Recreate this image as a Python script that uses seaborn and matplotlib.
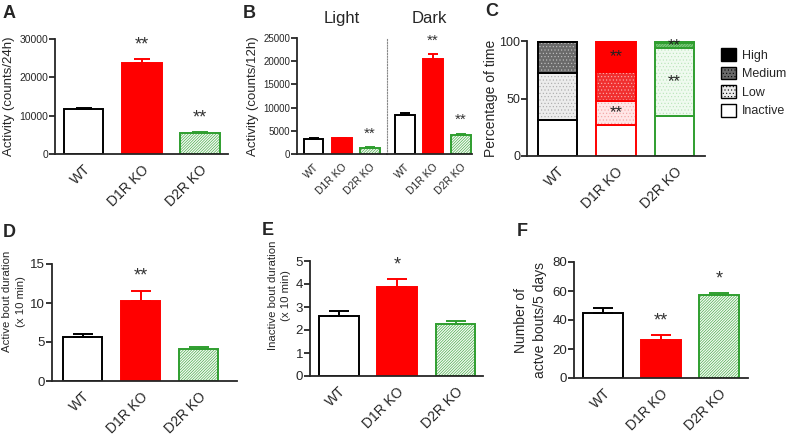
import pandas as pd
import seaborn as sns
import matplotlib.pyplot as plt
from matplotlib.patches import Patch

# ---- data ----
groups = ["WT", "D1R KO", "D2R KO"]

# A: total activity
act24_mean = [11800, 23700, 5500]
act24_sem = [300, 1100, 200]
act24_stars = ["", "**", "**"]

# B: activity per 12h, light and dark phase
light_mean = [3300, 3350, 1300]
light_sem = [150, 200, 120]
light_stars = ["", "", "**"]
dark_mean = [8500, 20400, 4150]
dark_sem = [250, 1050, 250]
dark_stars = ["", "**", "**"]

# C: percentage of time at each activity level (stacked bottom -> top)
levels = ["Inactive", "Low", "Medium", "High"]
pct_inactive = [31, 27, 35]
pct_low = [41, 21, 59]
pct_medium = [27.5, 25, 4.5]
pct_high = [0.5, 27, 1.5]
stars_inactive = ["", "", ""]
stars_low = ["", "**", "**"]
stars_medium = ["", "", "**"]
stars_high = ["", "**", ""]

# D, E, F: bout analysis
active_bout_mean = [5.7, 10.3, 4.1]
active_bout_sem = [0.3, 1.3, 0.25]
active_bout_stars = ["", "**", ""]
inactive_bout_mean = [2.6, 3.85, 2.25]
inactive_bout_sem = [0.22, 0.37, 0.15]
inactive_bout_stars = ["", "*", ""]
n_bouts_mean = [45, 26.5, 57]
n_bouts_sem = [3, 3.5, 1.5]
n_bouts_stars = ["", "**", "*"]

# ---- style ----
sns.set_style("ticks")
plt.rcParams.update({
    "font.family": ["Liberation Sans", "DejaVu Sans"],
    "axes.linewidth": 1.3,
    "ytick.major.width": 1.3,
    "ytick.major.size": 4,
    "xtick.major.size": 0,
    "hatch.linewidth": 0.4,
})

RED = "#ff0000"
GREEN = "#2f9e2f"
face = ["white", RED, "#f2faf2"]
edge = ["black", RED, GREEN]
hatch = [None, None, "/" * 12]

W, H = 787, 441
fig = plt.figure(figsize=(W / 100, H / 100), dpi=100)


def px_axes(left, top, right, bottom):
    return fig.add_axes([left / W, 1 - bottom / H, (right - left) / W, (bottom - top) / H])


def finish(ax, ymax, ystep, xlim, ylabel, tick_fs, xlab_fs, ylab_fs, label_y=0.5, labelpad=3):
    ax.set_ylim(0, ymax)
    ax.set_yticks(range(0, ymax + 1, ystep))
    ax.set_xlim(*xlim)
    ax.set_xlabel("")
    ax.set_ylabel(ylabel, fontsize=ylab_fs, labelpad=labelpad, y=label_y, linespacing=1.45)
    ax.tick_params(axis="y", labelsize=tick_fs, pad=1)
    ax.tick_params(axis="x", labelsize=xlab_fs, pad=6)
    plt.setp(ax.get_xticklabels(), rotation=45, ha="right", rotation_mode="anchor")
    sns.despine(ax=ax)


def bar_panel(ax, means, sems, stars, ymax, capsize, star_fs, width=0.68):
    df = pd.DataFrame({"group": groups, "value": means})
    sns.barplot(data=df, x="group", y="value", hue="group", palette=face,
                saturation=1, width=width, errorbar=None, legend=False, ax=ax)
    for bar, ec, h in zip(ax.patches, edge, hatch):
        bar.set_edgecolor(ec)
        bar.set_linewidth(1.4)
        bar.set_hatch(h)
    for i, (m, s, st) in enumerate(zip(means, sems, stars)):
        ax.errorbar(i, m, yerr=[[0], [s]], fmt="none", ecolor=edge[i],
                    elinewidth=1.4, capsize=capsize, capthick=1.4)
        if st:
            ax.text(i, m + s + 0.12 * ymax, st, ha="center", va="center",
                    fontsize=star_fs, color="#333333")


# A
axA = px_axes(55, 39, 228, 154)
bar_panel(axA, act24_mean, act24_sem, act24_stars, 30000, 6, 13)
finish(axA, 30000, 10000, (-0.49, 2.48), "Activity (counts/24h)", 7.5, 10, 9.5)

# B (light and dark halves share the baseline)
axBl = px_axes(297, 38, 387, 154)
bar_panel(axBl, light_mean, light_sem, light_stars, 25000, 3.5, 11, width=0.71)
finish(axBl, 25000, 5000, (-0.59, 2.62), "Activity (counts/12h)", 7, 7.5, 9.5)
axBl.set_title("Light", fontsize=12, pad=11)

axBd = px_axes(387, 38, 472, 154)
bar_panel(axBd, dark_mean, dark_sem, dark_stars, 25000, 3.5, 11, width=0.71)
finish(axBd, 25000, 5000, (-0.64, 2.4), "", 7, 7.5, 9.5)
axBd.tick_params(axis="y", left=False, labelleft=False)
axBd.spines["left"].set_linestyle((0, (1, 1.5)))
axBd.spines["left"].set_color("#888888")
axBd.spines["left"].set_linewidth(0.8)
axBd.set_title("Dark", fontsize=12, pad=11)

# C stacked percentages
axC = px_axes(527, 41, 705, 156)
seg_values = [pct_inactive, pct_low, pct_medium, pct_high]
seg_stars = [stars_inactive, stars_low, stars_medium, stars_high]
# (face, hatch, hatch colour) per level for each group
seg_style = [
    [("white", None, "white"), ("#ececec", ".....", "#a8a8a8"),
     ("#6a6a6a", ".....", "#c4c4c4"), ("black", None, "black")],
    [("white", None, "white"), ("#ffe6e6", ".....", "#f2a0a0"),
     ("#f03030", ".....", "#ffb4b4"), (RED, None, RED)],
    [("white", None, "white"), ("#effaef", ".....", "#b8e4b8"),
     ("#7cc87c", "/" * 12, GREEN), (GREEN, None, GREEN)],
]
bottoms = [0, 0, 0]
for lvl, vals, sts in zip(levels, seg_values, seg_stars):
    for i in range(3):
        fc, ht, hc = seg_style[i][levels.index(lvl)]
        axC.bar(i, vals[i], bottom=bottoms[i], width=0.67, color=fc, hatch=ht,
                edgecolor=hc, linewidth=0)
        axC.bar(i, vals[i], bottom=bottoms[i], width=0.67, fill=False,
                edgecolor=edge[i], linewidth=1.4)
        if sts[i]:
            axC.text(i, bottoms[i] + vals[i] / 2, sts[i], ha="center", va="center",
                     fontsize=12, color="#222222")
        bottoms[i] += vals[i]
axC.set_xticks(range(3), groups)
finish(axC, 100, 50, (-0.52, 2.52), "Percentage of time", 9, 10, 10, labelpad=1)

legend_handles = [
    Patch(facecolor="black", edgecolor="black", label="High"),
    Patch(facecolor="#6a6a6a", edgecolor="black", hatch=".....", label="Medium"),
    Patch(facecolor="#ececec", edgecolor="black", hatch=".....", label="Low"),
    Patch(facecolor="white", edgecolor="black", label="Inactive"),
]
fig.legend(handles=legend_handles, loc="upper left", bbox_to_anchor=(721 / W, 1 - 48 / H),
           frameon=False, fontsize=9, handlelength=1.2, handleheight=1.2,
           labelspacing=0.4, handletextpad=0.5, borderpad=0, borderaxespad=0)

# D
axD = px_axes(52, 264, 237, 381)
bar_panel(axD, active_bout_mean, active_bout_sem, active_bout_stars, 15, 7, 13)
finish(axD, 15, 5, (-0.53, 2.66), "Active bout duration\n(x 10 min)", 9.5, 10, 8.2,
       label_y=0.68)

# E
axE = px_axes(310, 261, 483, 376)
bar_panel(axE, inactive_bout_mean, inactive_bout_sem, inactive_bout_stars, 5, 7, 13)
finish(axE, 5, 1, (-0.49, 2.47), "Inactive bout duration\n(x 10 min)", 9.5, 10, 8.2,
       label_y=0.7)

# F
axF = px_axes(574, 262, 748, 378)
bar_panel(axF, n_bouts_mean, n_bouts_sem, n_bouts_stars, 80, 7, 13)
finish(axF, 80, 20, (-0.5, 2.5), "Number of\nactve bouts/5 days", 9.5, 10, 10,
       labelpad=4)

# panel letters
for letter, x, y in [("A", 3, 18), ("B", 243, 18), ("C", 485, 16),
                     ("D", 3, 237), ("E", 262, 235), ("F", 517, 236)]:
    fig.text(x / W, 1 - y / H, letter, fontsize=13, fontweight="bold", va="baseline")

fig.savefig("out.png", dpi=100)
